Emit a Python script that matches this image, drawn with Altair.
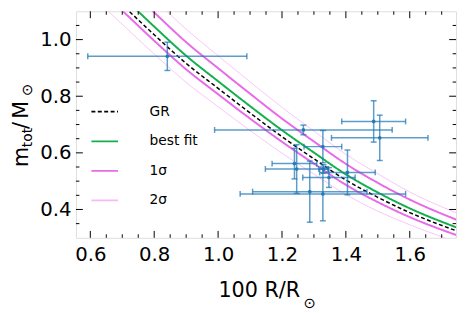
import altair as alt
import pandas as pd

# ---- curves ----
R_grid = [0.65, 0.70, 0.80, 0.90, 1.00, 1.10, 1.20, 1.30, 1.40, 1.50, 1.60, 1.75]
m_gr = [1.176, 1.123, 1.017, 0.916, 0.828, 0.741, 0.657, 0.579, 0.504, 0.443, 0.389, 0.323]
m_fit = [1.206, 1.153, 1.046, 0.943, 0.853, 0.765, 0.680, 0.601, 0.524, 0.460, 0.404, 0.335]
m_1s_hi = [1.258, 1.204, 1.096, 0.991, 0.899, 0.809, 0.721, 0.640, 0.561, 0.494, 0.435, 0.362]
m_1s_lo = [1.154, 1.102, 0.996, 0.895, 0.807, 0.721, 0.639, 0.562, 0.487, 0.426, 0.373, 0.308]
m_2s_hi = [1.306, 1.252, 1.143, 1.037, 0.943, 0.851, 0.761, 0.677, 0.595, 0.526, 0.462, 0.386]
m_2s_lo = [1.106, 1.054, 0.949, 0.849, 0.763, 0.679, 0.599, 0.525, 0.453, 0.394, 0.346, 0.284]

series_names = ["GR", "best fit", "1σ", "2σ"]

# ---- measurements ----
R_obs = [0.841, 1.267, 1.487, 1.506, 1.328, 1.328, 1.246, 1.405, 1.239, 1.347, 1.287, 1.330]
m_obs = [0.941, 0.681, 0.711, 0.653, 0.622, 0.455, 0.543, 0.531, 0.562, 0.513, 0.463, 0.543]
R_err = [0.249, 0.278, 0.100, 0.151, 0.059, 0.259, 0.098, 0.087, 0.070, 0.082, 0.179, 0.015]
m_err = [0.050, 0.017, 0.073, 0.080, 0.057, 0.095, 0.086, 0.079, 0.054, 0.035, 0.108, 0.015]

# ---- axis ticks ----
x_major = [0.6, 0.8, 1.0, 1.2, 1.4, 1.6]
x_minor = [0.65, 0.7, 0.75, 0.85, 0.9, 0.95, 1.05, 1.1, 1.15, 1.25, 1.3, 1.35, 1.45, 1.5, 1.55, 1.65, 1.7]
y_major = [0.4, 0.6, 0.8, 1.0]
y_minor = [0.35, 0.45, 0.5, 0.55, 0.65, 0.7, 0.75, 0.85, 0.9, 0.95, 1.05]

x_title = ["100 R/R", "⊙"]
y_title = ["m", "tot", "/", "M", "⊙"]

W, H = 386, 230
FONT = "DejaVu Sans"

rows = []
for name, lid, ys_ in [("GR", "gr", m_gr), ("best fit", "fit", m_fit),
                       ("1σ", "s1h", m_1s_hi), ("1σ", "s1l", m_1s_lo),
                       ("2σ", "s2h", m_2s_hi), ("2σ", "s2l", m_2s_lo)]:
    for r, m in zip(R_grid, ys_):
        rows.append({"R": r, "m": m, "series": name, "line": lid})
curves = pd.DataFrame(rows)

obs = pd.DataFrame({"R": R_obs, "m": m_obs})
obs["Rlo"] = [r - e for r, e in zip(R_obs, R_err)]
obs["Rhi"] = [r + e for r, e in zip(R_obs, R_err)]
obs["mlo"] = [m - e for m, e in zip(m_obs, m_err)]
obs["mhi"] = [m + e for m, e in zip(m_obs, m_err)]

xs = alt.Scale(domain=[0.555, 1.745], nice=False, zero=False)
ys = alt.Scale(domain=[0.3, 1.1], nice=False, zero=False)

xaxis = alt.Axis(values=x_major, format=".1f", ticks=False, domain=False, grid=False,
                 labelFontSize=20, labelPadding=7, title=None, labelFont=FONT,
                 labelColor="black", labelOverlap=False, labelFlush=False)
yaxis = alt.Axis(values=y_major, format=".1f", ticks=False, domain=False, grid=False,
                 labelFontSize=20, labelPadding=5, title=None, labelFont=FONT,
                 labelColor="black", labelOverlap=False, labelFlush=False)


def X(field):
    return alt.X(field, scale=xs, axis=xaxis)


def Y(field):
    return alt.Y(field, scale=ys, axis=yaxis)


colors = ["black", "#12b04c", "#e86ae8", "#f7b9f7"]
dashes = [[4, 2.5], [1, 0], [1, 0], [1, 0]]
widths = {"GR": 1.5, "best fit": 2, "1σ": 2, "2σ": 0.9}

leg = alt.Legend(title=None, orient="none", legendX=14.7, legendY=87.5,
                 symbolType="stroke", symbolSize=729, symbolStrokeWidth=1.8,
                 labelFontSize=14, labelFont=FONT, labelColor="black",
                 labelOffset=31, rowPadding=8, padding=0)

line_layers = []
for s in series_names:
    line_layers.append(
        alt.Chart(curves).transform_filter(alt.datum.series == s)
        .mark_line(clip=True, interpolate="monotone", strokeWidth=widths[s])
        .encode(
            x=X("R:Q"),
            y=Y("m:Q"),
            color=alt.Color("series:N", scale=alt.Scale(domain=series_names, range=colors), legend=leg),
            strokeDash=alt.StrokeDash("series:N", scale=alt.Scale(domain=series_names, range=dashes), legend=leg),
            detail="line:N",
        )
    )

EB = "#1f77b4"
EBO = 0.72
base = alt.Chart(obs)
hbar = base.mark_rule(color=EB, opacity=EBO, strokeWidth=1.5).encode(
    x=X("Rlo:Q"), x2="Rhi:Q", y=Y("m:Q"))
vbar = base.mark_rule(color=EB, opacity=EBO, strokeWidth=1.5).encode(
    x=X("R:Q"), y=Y("mlo:Q"), y2="mhi:Q")
cap1 = base.mark_tick(color=EB, opacity=EBO, orient="vertical", size=6, thickness=1.5).encode(
    x=X("Rlo:Q"), y=Y("m:Q"))
cap2 = base.mark_tick(color=EB, opacity=EBO, orient="vertical", size=6, thickness=1.5).encode(
    x=X("Rhi:Q"), y=Y("m:Q"))
cap3 = base.mark_tick(color=EB, opacity=EBO, orient="horizontal", size=6, thickness=1.5).encode(
    x=X("R:Q"), y=Y("mlo:Q"))
cap4 = base.mark_tick(color=EB, opacity=EBO, orient="horizontal", size=6, thickness=1.5).encode(
    x=X("R:Q"), y=Y("mhi:Q"))
pts = base.mark_circle(color=EB, opacity=0.9, size=14).encode(
    x=X("R:Q"), y=Y("m:Q"))


def xticks(vals, length):
    d = alt.Chart(pd.DataFrame({"v": vals}))
    b = d.mark_rule(color="black", strokeWidth=1).encode(
        x=X("v:Q"), y=alt.value(H), y2=alt.value(H - length))
    t = d.mark_rule(color="black", strokeWidth=1).encode(
        x=X("v:Q"), y=alt.value(0), y2=alt.value(length))
    return [b, t]


def yticks(vals, length):
    d = alt.Chart(pd.DataFrame({"v": vals}))
    l = d.mark_rule(color="black", strokeWidth=1).encode(
        y=Y("v:Q"), x=alt.value(0), x2=alt.value(length))
    r = d.mark_rule(color="black", strokeWidth=1).encode(
        y=Y("v:Q"), x=alt.value(W), x2=alt.value(W - length))
    return [l, r]


tick_layers = xticks(x_major, 7) + xticks(x_minor, 3.5) + yticks(y_major, 7) + yticks(y_minor, 3.5)


def txt(s, x, y, size, angle=0, baseline="alphabetic"):
    return alt.Chart(pd.DataFrame({"t": [s]})).mark_text(
        font=FONT, fontSize=size, color="black", align="left", baseline=baseline, angle=angle
    ).encode(text="t:N", x=alt.value(x), y=alt.value(y))


texts = [
    txt(x_title[0], 144.7, 290, 21),
    txt(x_title[1], 231, 296.5, 15, baseline="middle"),
    txt(y_title[0], -48.5, 158, 21, angle=270),
    txt(y_title[1], -45, 138, 14, angle=270),
    txt(y_title[2], -48.5, 119.5, 21, angle=270),
    txt(y_title[3], -48.5, 109, 21, angle=270),
    txt(y_title[4], -45, 86, 15, angle=270),
]

chart = alt.layer(*line_layers, hbar, vbar, cap1, cap2, cap3, cap4, pts, *tick_layers, *texts).properties(
    width=W, height=H,
    padding={"left": 69, "top": 1, "right": 5, "bottom": 72},
    autosize=alt.AutoSizeParams(type="none"),
).configure_view(stroke="black", strokeWidth=1.2).configure(background="white")

chart.save("out.html", embed_options={"renderer": "svg", "actions": False})
